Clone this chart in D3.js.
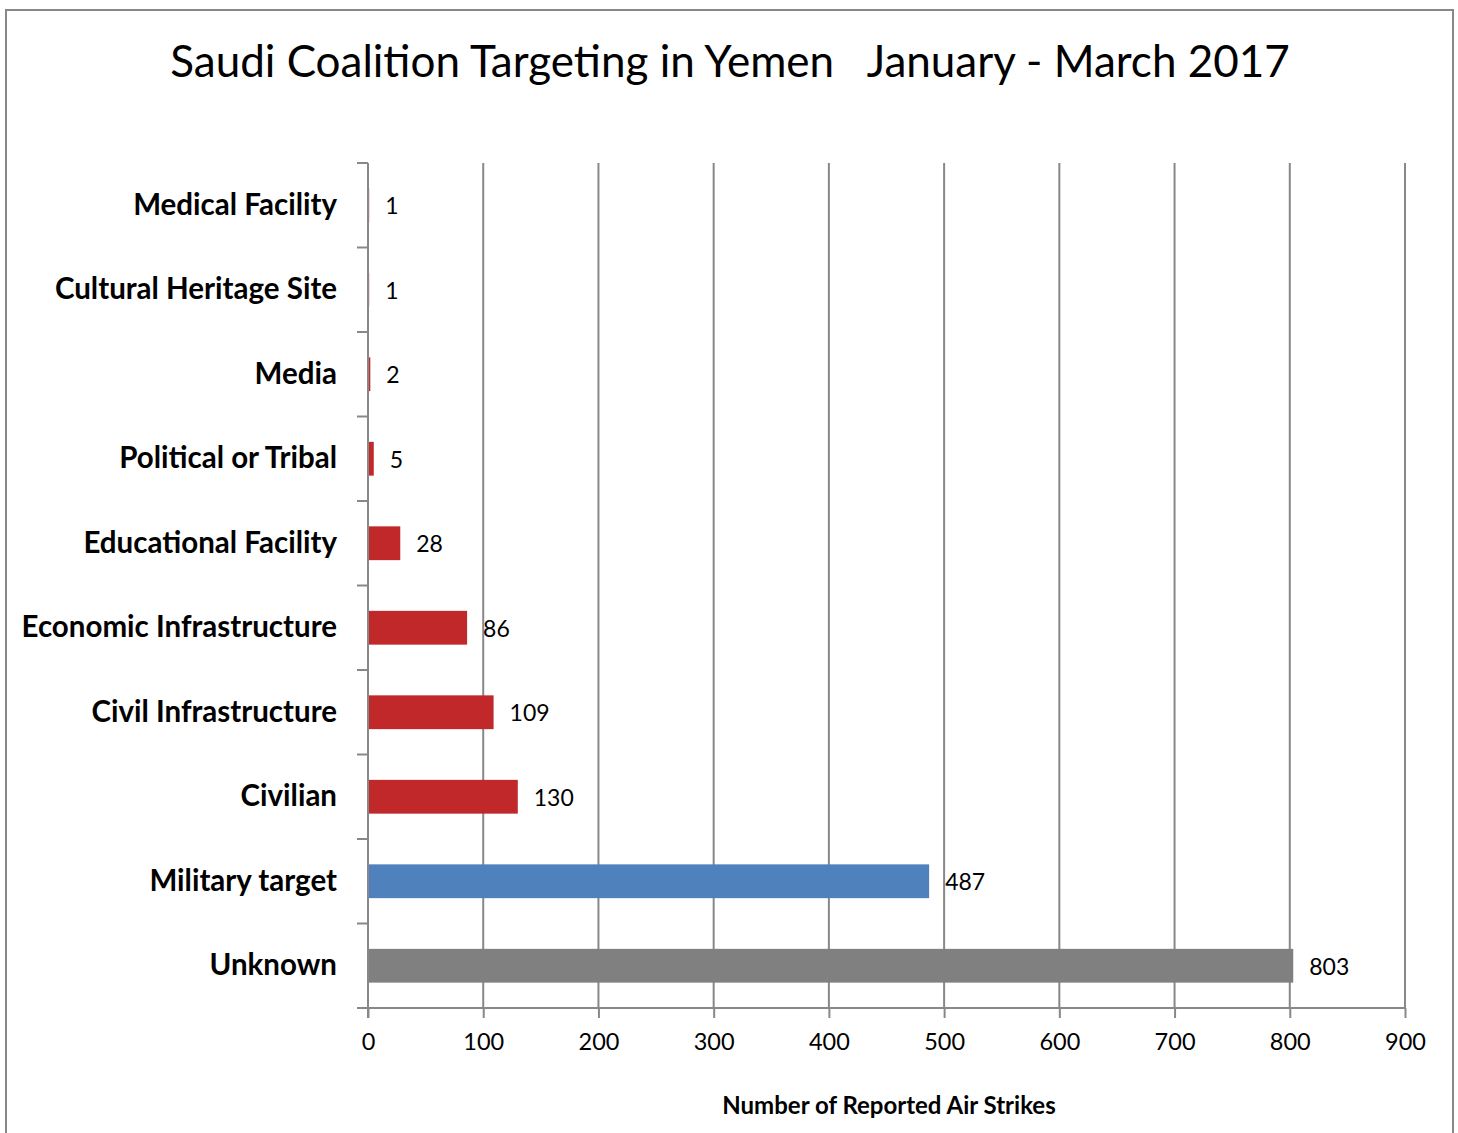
<!DOCTYPE html>
<html><head><meta charset="utf-8">
<script src="https://cdn.jsdelivr.net/npm/d3@7"></script>
<style>
html,body{margin:0;padding:0;background:#fff;}
svg{display:block;font-family:Lato,"Open Sans",sans-serif;}
</style></head>
<body>
<svg id="chart" width="1458" height="1133"></svg>
<script>
const categories = ["Medical Facility","Cultural Heritage Site","Media","Political or Tribal","Educational Facility","Economic Infrastructure","Civil Infrastructure","Civilian","Military target","Unknown"];
const values = [1,1,2,5,28,86,109,130,487,803];
const barColors = ["#C0282A","#C0282A","#C0282A","#C0282A","#C0282A","#C0282A","#C0282A","#C0282A","#4F81BD","#808080"];
const xTicks = [0,100,200,300,400,500,600,700,800,900];
const title = "Saudi Coalition Targeting in Yemen   January - March 2017";
const xTitle = "Number of Reported Air Strikes";

(function(){
const svg = d3.select("#chart");
svg.append("rect").attr("x",6).attr("y",10).attr("width",1447).attr("height",1140)
  .attr("fill","none").attr("stroke","#888").attr("stroke-width",2);

const pL=368, pR=1405, pT=163, pB=1008;
const x = d3.scaleLinear().domain([0,900]).range([pL,pR]);
const y = d3.scaleBand().domain(categories).range([pT,pB]).paddingInner(0.6).paddingOuter(0.3);
const band = d3.scaleBand().domain(categories).range([pT,pB]);

svg.append("g").selectAll("line").data(xTicks.slice(1)).join("line")
  .attr("x1",d=>x(d)).attr("x2",d=>x(d)).attr("y1",pT).attr("y2",pB)
  .attr("stroke","#888").attr("stroke-width",2);

svg.append("g").selectAll("rect").data(categories).join("rect")
  .attr("x",x(0)).attr("y",d=>y(d)).attr("height",y.bandwidth())
  .attr("width",(d,i)=>x(values[i])-x(0))
  .attr("fill",(d,i)=>barColors[i]);

const yEdges = categories.map(c=>band(c)).concat([pB]);
const ya = svg.append("g");
ya.append("line").attr("x1",pL).attr("x2",pL).attr("y1",pT).attr("y2",pB+10).attr("stroke","#888").attr("stroke-width",2);
ya.selectAll("line.t").data(yEdges).join("line").attr("class","t")
  .attr("x1",pL-11).attr("x2",pL).attr("y1",d=>d).attr("y2",d=>d)
  .attr("stroke","#888").attr("stroke-width",2);

const xa = svg.append("g").attr("transform",`translate(0,${pB})`)
  .call(d3.axisBottom(x).tickValues(xTicks).tickSize(10).tickPadding(15).tickSizeOuter(0));
xa.select(".domain").remove();
xa.append("line").attr("x1",pL-11).attr("x2",pR).attr("y1",0).attr("y2",0).attr("stroke","#888").attr("stroke-width",2);
xa.selectAll(".tick line").attr("stroke","#888").attr("stroke-width",2);
xa.selectAll(".tick text").attr("font-size",23.5).attr("fill","#000").attr("font-family","Lato, sans-serif");

svg.append("g").selectAll("text").data(categories).join("text")
  .attr("x",337).attr("y",d=>y(d)+y.bandwidth()/2-1).attr("dy","0.35em")
  .attr("text-anchor","end").attr("font-size",29.5).attr("font-weight","bold").attr("fill","#000")
  .text(d=>d);

svg.append("g").selectAll("text").data(categories).join("text")
  .attr("x",(d,i)=>x(values[i])+16).attr("y",d=>y(d)+y.bandwidth()/2+1).attr("dy","0.35em")
  .attr("font-size",23).attr("fill","#000")
  .text((d,i)=>values[i]);

svg.append("text").attr("x",730).attr("y",77).attr("text-anchor","middle")
  .attr("font-size",44).attr("fill","#000").style("white-space","pre").text(title);

svg.append("text").attr("x",889).attr("y",1114).attr("text-anchor","middle")
  .attr("font-size",24).attr("font-weight","bold").attr("fill","#000").text(xTitle);
})();
</script>
</body></html>
